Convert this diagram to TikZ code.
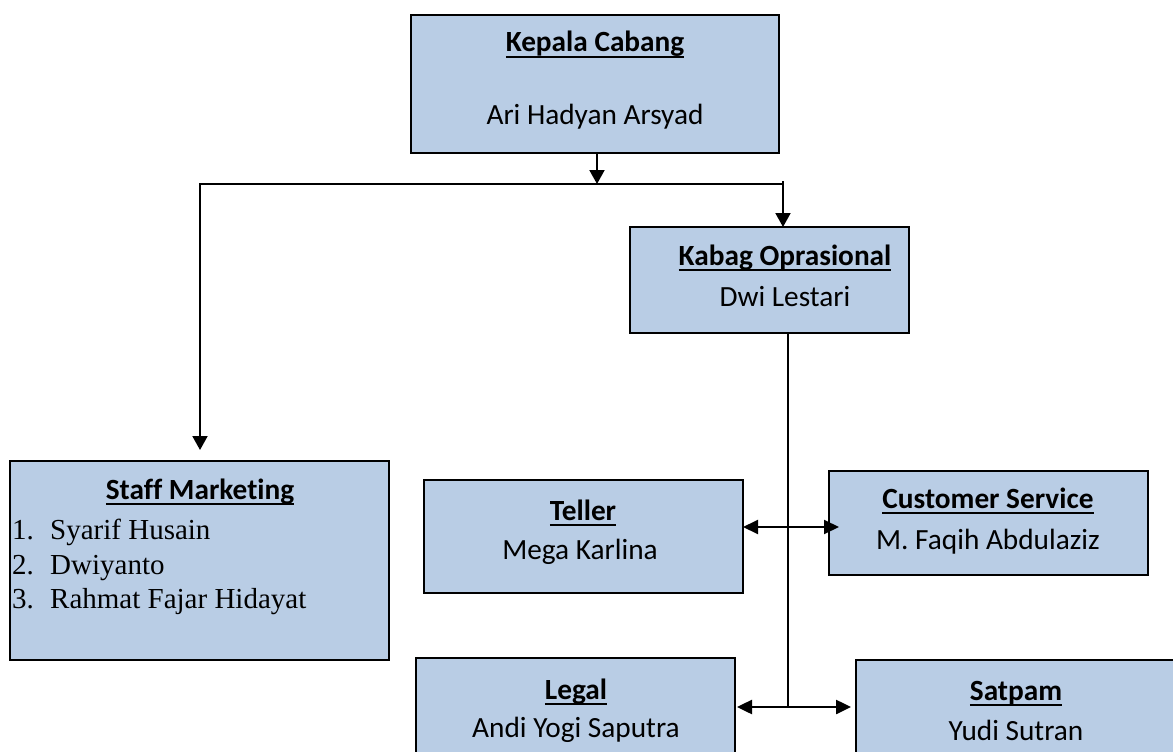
\documentclass[tikz,border=0pt]{standalone}
\usepackage{fontspec}
\setmainfont{Carlito}[RawFeature=-liga]
\newfontfamily\timesf{Liberation Serif}
\usetikzlibrary{arrows.meta}
\newsavebox{\myulbox}
\newcommand{\myul}[1]{\sbox{\myulbox}{#1}\rlap{\vrule height -4.2pt depth 5.8pt width \wd\myulbox}\usebox{\myulbox}}
\definecolor{boxblue}{RGB}{185,205,229}
\tikzset{
  box/.style={draw=black, fill=boxblue, line width=2pt, inner sep=0pt, outer sep=0pt, rectangle},
  ttl/.style={font=\fontsize{29.3}{35}\selectfont\bfseries, anchor=base, inner sep=0pt},
  nm/.style={font=\fontsize{29.3}{35}\selectfont, anchor=base, inner sep=0pt},
  lst/.style={font=\timesf\fontsize{29}{34}\selectfont, anchor=base west, inner sep=0pt},
  conn/.style={line width=2pt},
  arr/.style={line width=2pt, -{Triangle[length=14pt,width=15pt]}},
  darr/.style={line width=2.5pt, {Triangle[length=15pt,width=14pt]}-{Triangle[length=15pt,width=14pt]}}
}
\begin{document}
\begin{tikzpicture}[x=1pt,y=-1pt]
\useasboundingbox (0,0) rectangle (1173,752);
% boxes
\node[box, minimum width=368pt, minimum height=138pt] (kc) at (595,84) {};
\node[box, minimum width=279pt, minimum height=106pt] (kabag) at (769.5,280) {};
\node[box, minimum width=379pt, minimum height=199pt] (staff) at (199.5,560.5) {};
\node[box, minimum width=319pt, minimum height=113pt] (teller) at (583.5,536.5) {};
\node[box, minimum width=319pt, minimum height=104pt] (cs) at (988.5,523) {};
\node[box, minimum width=319pt, minimum height=122pt] (legal) at (575.5,719) {};
\node[box, minimum width=320pt, minimum height=120pt] (satpam) at (1016,720) {};
% texts
\node[ttl] (kcT) at (595,52) {\myul{Kepala Cabang}};
\node[nm] (kcN) at (595,124) {Ari Hadyan Arsyad};
\node[ttl] (kabagT) at (785,265) {\myul{Kabag Oprasional}};
\node[nm] (kabagN) at (785,306) {Dwi Lestari};
\node[ttl] (staffT) at (200,499) {\myul{Staff Marketing}};
\node[lst] (s1n) at (12,539) {1.};
\node[lst] (s1) at (50,539) {Syarif Husain};
\node[lst] (s2n) at (12,574) {2.};
\node[lst] (s2) at (50,574) {Dwiyanto};
\node[lst] (s3n) at (12,608) {3.};
\node[lst] (s3) at (50,608) {Rahmat Fajar Hidayat};
\node[ttl] (tellerT) at (583,520) {\myul{Teller}};
\node[nm] (tellerN) at (580,559) {Mega Karlina};
\node[ttl] (csT) at (988,508) {\myul{Customer Service}};
\node[nm] (csN) at (988,549) {M. Faqih Abdulaziz};
\node[ttl] (legalT) at (576,699) {\myul{Legal}};
\node[nm] (legalN) at (576,737) {Andi Yogi Saputra};
\node[ttl] (satpamT) at (1016,700) {\myul{Satpam}};
\node[nm] (satpamN) at (1016,740) {Yudi Sutran};
% connectors
\coordinate (bm) at (597,184);
\coordinate (bl) at (200,184);
\coordinate (br) at (783,184);
\coordinate (br0) at (783,181);
\coordinate (vt) at (788,333);
\coordinate (vb) at (788,707);
\coordinate (vm) at (788,527);
\draw[arr] (bm |- kc.south) -- (bm);
\draw[conn] (bl) -- (br);
\draw[conn] (bl) -- ++(0,-1);
\draw[arr] (br0) -- (br |- kabag.north);
\draw[arr, shorten >=11pt] (bl) -- (bl |- staff.north);
\draw[conn] (vt) -- (vb);
\draw[darr, shorten >=-10pt, line width=2pt] (teller.east |- vm) -- (cs.west |- vm);
\draw[darr, shorten <=2pt, shorten >=5pt] (legal.east |- vb) -- (satpam.west |- vb);
\end{tikzpicture}
\end{document}
